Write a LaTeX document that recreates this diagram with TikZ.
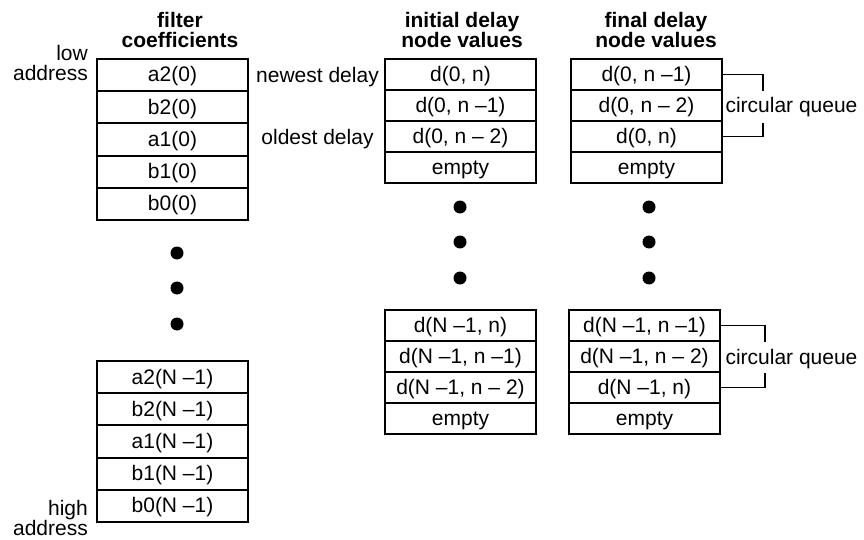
\documentclass[tikz,border=0pt]{standalone}
\usepackage{fontspec}
\setmainfont{Liberation Sans}
\begin{document}
\begin{tikzpicture}[
        x=1pt, y=-1pt,
        font=\fontsize{21}{20}\selectfont,
        celula/.style={draw=black, line width=2pt, minimum width=151pt, minimum height=32.2pt,
                       inner sep=0pt, text height=16.5pt, text depth=2.7pt},
        celulab/.style={celula, minimum height=31pt},
        titulo/.style={align=center, inner sep=0pt, font=\fontsize{21}{20}\selectfont\bfseries},
        rotulo/.style={align=right, inner sep=0pt},
        ponto/.style={shape=circle, fill=black, minimum size=13pt, inner sep=0pt},
        fila/.style={line width=1.8pt},
    ]
    \useasboundingbox (0,0) rectangle (864,540);

    % titles
    \node[titulo] (t1) at (180, 29.5) {filter\\coefficients};
    \node[titulo] (t2) at (462, 29.5) {initial delay\\node values};
    \node[titulo] (t3) at (656, 29.5) {final delay\\node values};

    % filter coefficients
    \node[rotulo, anchor=east] (low) at (88, 62.5) {low\\address};
    \node[celula] (f1) at (172.5, 75.1) {a2(0)};
    \node[celula] (f2) at (172.5, 107.3) {b2(0)};
    \node[celula] (f3) at (172.5, 139.5) {a1(0)};
    \node[celula] (f4) at (172.5, 171.7) {b1(0)};
    \node[celula] (f5) at (172.5, 203.9) {b0(0)};

    \node[ponto] (p1) at (177, 253) {};
    \node[ponto] (p2) at (177, 288) {};
    \node[ponto] (p3) at (177, 324) {};

    \node[celula] (g1) at (172.5, 377.1) {a2(N –1)};
    \node[celula] (g2) at (172.5, 409.3) {b2(N –1)};
    \node[celula] (g3) at (172.5, 441.5) {a1(N –1)};
    \node[celula] (g4) at (172.5, 473.7) {b1(N –1)};
    \node[celula] (g5) at (172.5, 505.9) {b0(N –1)};
    \node[rotulo, anchor=east] (high) at (88, 517.5) {high\\address};

    % initial delay node values
    \node (newest) at (317.5, 77.5) {newest delay};
    \node (oldest) at (317.5, 139.5) {oldest delay};
    \node[celulab] (i1) at (460.5, 74.5) {d(0, n)};
    \node[celulab] (i2) at (460.5, 105.5) {d(0, n –1)};
    \node[celulab] (i3) at (460.5, 136.5) {d(0, n – 2)};
    \node[celulab] (i4) at (460.5, 167.5) {empty};

    \node[ponto] (q1) at (460, 207) {};
    \node[ponto] (q2) at (460, 242) {};
    \node[ponto] (q3) at (460, 278) {};

    \node[celulab] (j1) at (460.5, 325.5) {d(N –1, n)};
    \node[celulab] (j2) at (460.5, 356.5) {d(N –1, n –1)};
    \node[celulab] (j3) at (460.5, 387.5) {d(N –1, n – 2)};
    \node[celulab] (j4) at (460.5, 418.5) {empty};

    % final delay node values
    \node[celulab] (k1) at (646.5, 74.5) {d(0, n –1)};
    \node[celulab] (k2) at (646.5, 105.5) {d(0, n – 2)};
    \node[celulab] (k3) at (646.5, 136.5) {d(0, n)};
    \node[celulab] (k4) at (646.5, 167.5) {empty};

    \node[ponto] (r1) at (649, 207) {};
    \node[ponto] (r2) at (649, 242) {};
    \node[ponto] (r3) at (649, 278) {};

    \node[celulab] (l1) at (644.5, 325.5) {d(N –1, n –1)};
    \node[celulab] (l2) at (644.5, 356.5) {d(N –1, n – 2)};
    \node[celulab] (l3) at (644.5, 387.5) {d(N –1, n)};
    \node[celulab] (l4) at (644.5, 418.5) {empty};

    % circular queues
    \node (fila1) at (791.5, 107.5) {circular queue};
    \coordinate (c1) at (763, 91);
    \coordinate (c2) at (763, 123);
    \draw[fila] (k1.east) -| (c1);
    \draw[fila] (k3.east) -| (c2);

    \node (fila2) at (791.5, 359.5) {circular queue};
    \coordinate (c3) at (765, 342);
    \coordinate (c4) at (765, 373);
    \draw[fila] (l1.east) -| (c3);
    \draw[fila] (l3.east) -| (c4);
\end{tikzpicture}
\end{document}
